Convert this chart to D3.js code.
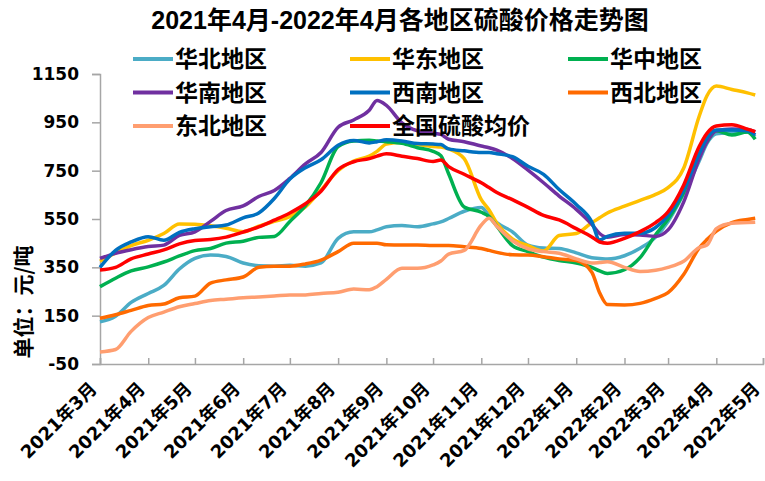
<!DOCTYPE html>
<html>
<head>
<meta charset="utf-8">
<title>各地区硫酸价格走势图</title>
<script src="https://d3js.org/d3.v7.min.js"></script>
<style>
  body { margin: 0; background: #fff; }
  svg { display: block; }
</style>
</head>
<body>
<div id="chart"></div>
<script>
// sample dates (roughly every 10 days)
const dates = ["2021-03-01","2021-03-11","2021-03-21","2021-04-01","2021-04-11","2021-04-21",
  "2021-05-01","2021-05-11","2021-05-21","2021-06-01","2021-06-11","2021-06-21",
  "2021-07-01","2021-07-11","2021-07-21","2021-08-01","2021-08-11","2021-08-21","2021-08-26",
  "2021-09-01","2021-09-11","2021-09-21","2021-10-01","2021-10-06","2021-10-11","2021-10-21",
  "2021-11-01","2021-11-06","2021-11-11","2021-11-21","2021-12-01","2021-12-11","2021-12-21",
  "2022-01-01","2022-01-11","2022-01-16","2022-01-21","2022-02-01","2022-02-11","2022-02-21",
  "2022-03-01","2022-03-11","2022-03-21","2022-03-26","2022-04-01","2022-04-11","2022-04-21","2022-04-26"];

const huabei = [125,148,205, 242,275,343, 387,401,395, 368,357,355, 359,355,368, 470,497,497,505,
  518,523,518, 530,538,552,582, 598,565,535,497, 442,430,428, 410,390,387,384, 398,429,475,
  540,655,790,863, 903,908,910,891];
const huadong = [375,410,440, 462,490,529, 528,522,512, 497,520,540, 560,600,670, 750,790,810,830,
  860,868,858, 850,848,840,800, 630,587,532,468, 440,418,482, 490,535,555,575, 603,627,652,
  680,760,975,1060, 1100,1086,1072,1063];
const huazhong = [270,305,335, 352,372,397, 419,428,450, 458,474,478, 540,605,700, 850,873,876,873,
  870,863,845, 830,812,737,600, 578,560,520,440, 415,392,378, 368,350,335,325, 340,390,485,
  550,660,820,870, 915,898,910,880];
const huanan = [387,408,423, 436,442,482, 497,540,585, 604,643,668, 718,778,825, 930,960,1000,1040,
  1020,948,915, 905,900,880,870, 852,845,835,800, 752,700,645, 590,528,490,475, 486,484,478,
  505,620,800,870, 915,922,920,911];
const xinan = [350,420,455, 477,462,495, 510,518,525, 555,575,635, 715,762,795, 855,875,865,870,
  878,873,862, 860,858,840,832, 825,825,820,808, 768,735,672, 610,538,463,478, 491,491,515,
  565,670,820,885, 918,918,915,898];
const xibei = [139,154,172, 192,198,224, 231,285,298, 310,350,355, 355,364,380, 415,450,450,450,
  443,442,442, 440,440,440,435, 428,420,412,402, 401,394,385, 378,330,245,196, 194,201,222,
  245,320,430,465, 500,535,548,553];
const dongbei = [0,10,85, 142,165,187, 200,213,218, 224,227,231, 236,236,242, 247,260,257,270,
  300,346,346, 360,376,405,420, 525,553,520,460, 427,415,408, 385,368,370,373, 350,333,338,
  350,375,432,442, 510,532,535,537];
const quanguo = [339,350,385, 405,422,447, 461,465,475, 496,517,545, 575,613,665, 755,787,800,810,
  820,810,800, 788,794,767,735, 700,680,660,630, 598,565,546, 510,476,455,450, 470,498,535,
  580,690,850,905, 935,940,922,911];

const seriesNames = ["华北地区","华东地区","华中地区","华南地区","西南地区","西北地区","东北地区","全国硫酸均价"];
const seriesColors = ["#4BACC6","#FFC000","#00B050","#7030A0","#0070C0","#FF6A00","#FF9E70","#FF0000"];
const seriesValues = [huabei, huadong, huazhong, huanan, xinan, xibei, dongbei, quanguo];

const yTicks = [-50,150,350,550,750,950,1150];
const monthTicks = ["2021-03-01","2021-04-01","2021-05-01","2021-06-01","2021-07-01","2021-08-01",
  "2021-09-01","2021-10-01","2021-11-01","2021-12-01","2022-01-01","2022-02-01","2022-03-01",
  "2022-04-01","2022-05-01"];

const width = 765, height = 481;
const parse = d3.timeParse("%Y-%m-%d");
const fmt = d3.timeFormat("%Y年%-m月");

const svg = d3.select("#chart").append("svg")
    .attr("width", width)
    .attr("height", height)
    .style("background", "#fff");

const x = d3.scaleTime()
    .domain([parse("2021-03-01"), parse("2022-05-01")])
    .range([100, 763]);

const y = d3.scaleLinear()
    .domain([-50, 1150])
    .range([364, 74]);

// title
svg.append("text")
    .attr("x", 400)
    .attr("y", 29)
    .attr("text-anchor", "middle")
    .style("font-family", "'Liberation Sans','Noto Sans CJK SC',sans-serif")
    .style("font-weight", "bold")
    .style("font-size", "25px")
    .text("2021年4月-2022年4月各地区硫酸价格走势图");

// y axis
const yAxis = svg.append("g")
    .attr("transform", "translate(100,0)")
    .call(d3.axisLeft(y).tickValues(yTicks).tickSize(8).tickPadding(13).tickFormat(d => String(d)));
yAxis.select(".domain").attr("stroke", "#a6a6a6").attr("stroke-width", 1.5);
yAxis.selectAll(".tick line").attr("stroke", "#a6a6a6").attr("stroke-width", 1.5);
yAxis.selectAll(".tick text")
    .style("font-family", "'DejaVu Sans',sans-serif")
    .style("font-weight", "bold")
    .style("font-size", "17px")
    .attr("fill", "#000");

// x axis, ticks pointing into the plot
const xAxis = svg.append("g")
    .attr("transform", "translate(0,364)")
    .call(d3.axisBottom(x).tickValues(monthTicks.map(parse)).tickSize(-6).tickFormat(""));
xAxis.select(".domain").attr("stroke", "#a6a6a6").attr("stroke-width", 1.5);
xAxis.selectAll(".tick line").attr("stroke", "#a6a6a6").attr("stroke-width", 1.5);

svg.append("g").selectAll("text")
    .data(monthTicks)
    .join("text")
    .attr("transform", d => "translate(" + (x(parse(d)) - 2) + ",390) rotate(-45)")
    .attr("text-anchor", "end")
    .style("font-family", "'DejaVu Sans','Noto Sans CJK SC',sans-serif")
    .style("font-weight", "bold")
    .style("font-size", "18px")
    .text(d => fmt(parse(d)));

// y axis title
svg.append("text")
    .attr("transform", "translate(31,302) rotate(-90)")
    .attr("text-anchor", "middle")
    .style("font-family", "'Noto Sans CJK SC',sans-serif")
    .style("font-weight", "bold")
    .style("font-size", "21px")
    .text("单位：元/吨");

// lines
const line = d3.line()
    .x((d, i) => x(parse(dates[i])))
    .y(d => y(d))
    .curve(d3.curveMonotoneX);

svg.append("g").selectAll("path")
    .data(seriesValues)
    .join("path")
    .attr("fill", "none")
    .attr("stroke", (d, i) => seriesColors[i])
    .attr("stroke-width", 3.5)
    .attr("stroke-linejoin", "round")
    .attr("d", line);

// legend, 3 columns
const colX = [133, 350, 568];
const rowY = [59, 92.5, 126];
const legend = svg.append("g").selectAll("g")
    .data(seriesNames)
    .join("g")
    .attr("transform", (d, i) => "translate(" + colX[i % 3] + "," + rowY[Math.floor(i / 3)] + ")");
legend.append("line")
    .attr("x1", 0).attr("x2", 40)
    .attr("stroke", (d, i) => seriesColors[i])
    .attr("stroke-width", 4);
legend.append("text")
    .attr("x", 42)
    .attr("dy", "0.36em")
    .style("font-family", "'Noto Sans CJK SC',sans-serif")
    .style("font-weight", "bold")
    .style("font-size", "23px")
    .text(d => d);
</script>
</body>
</html>
